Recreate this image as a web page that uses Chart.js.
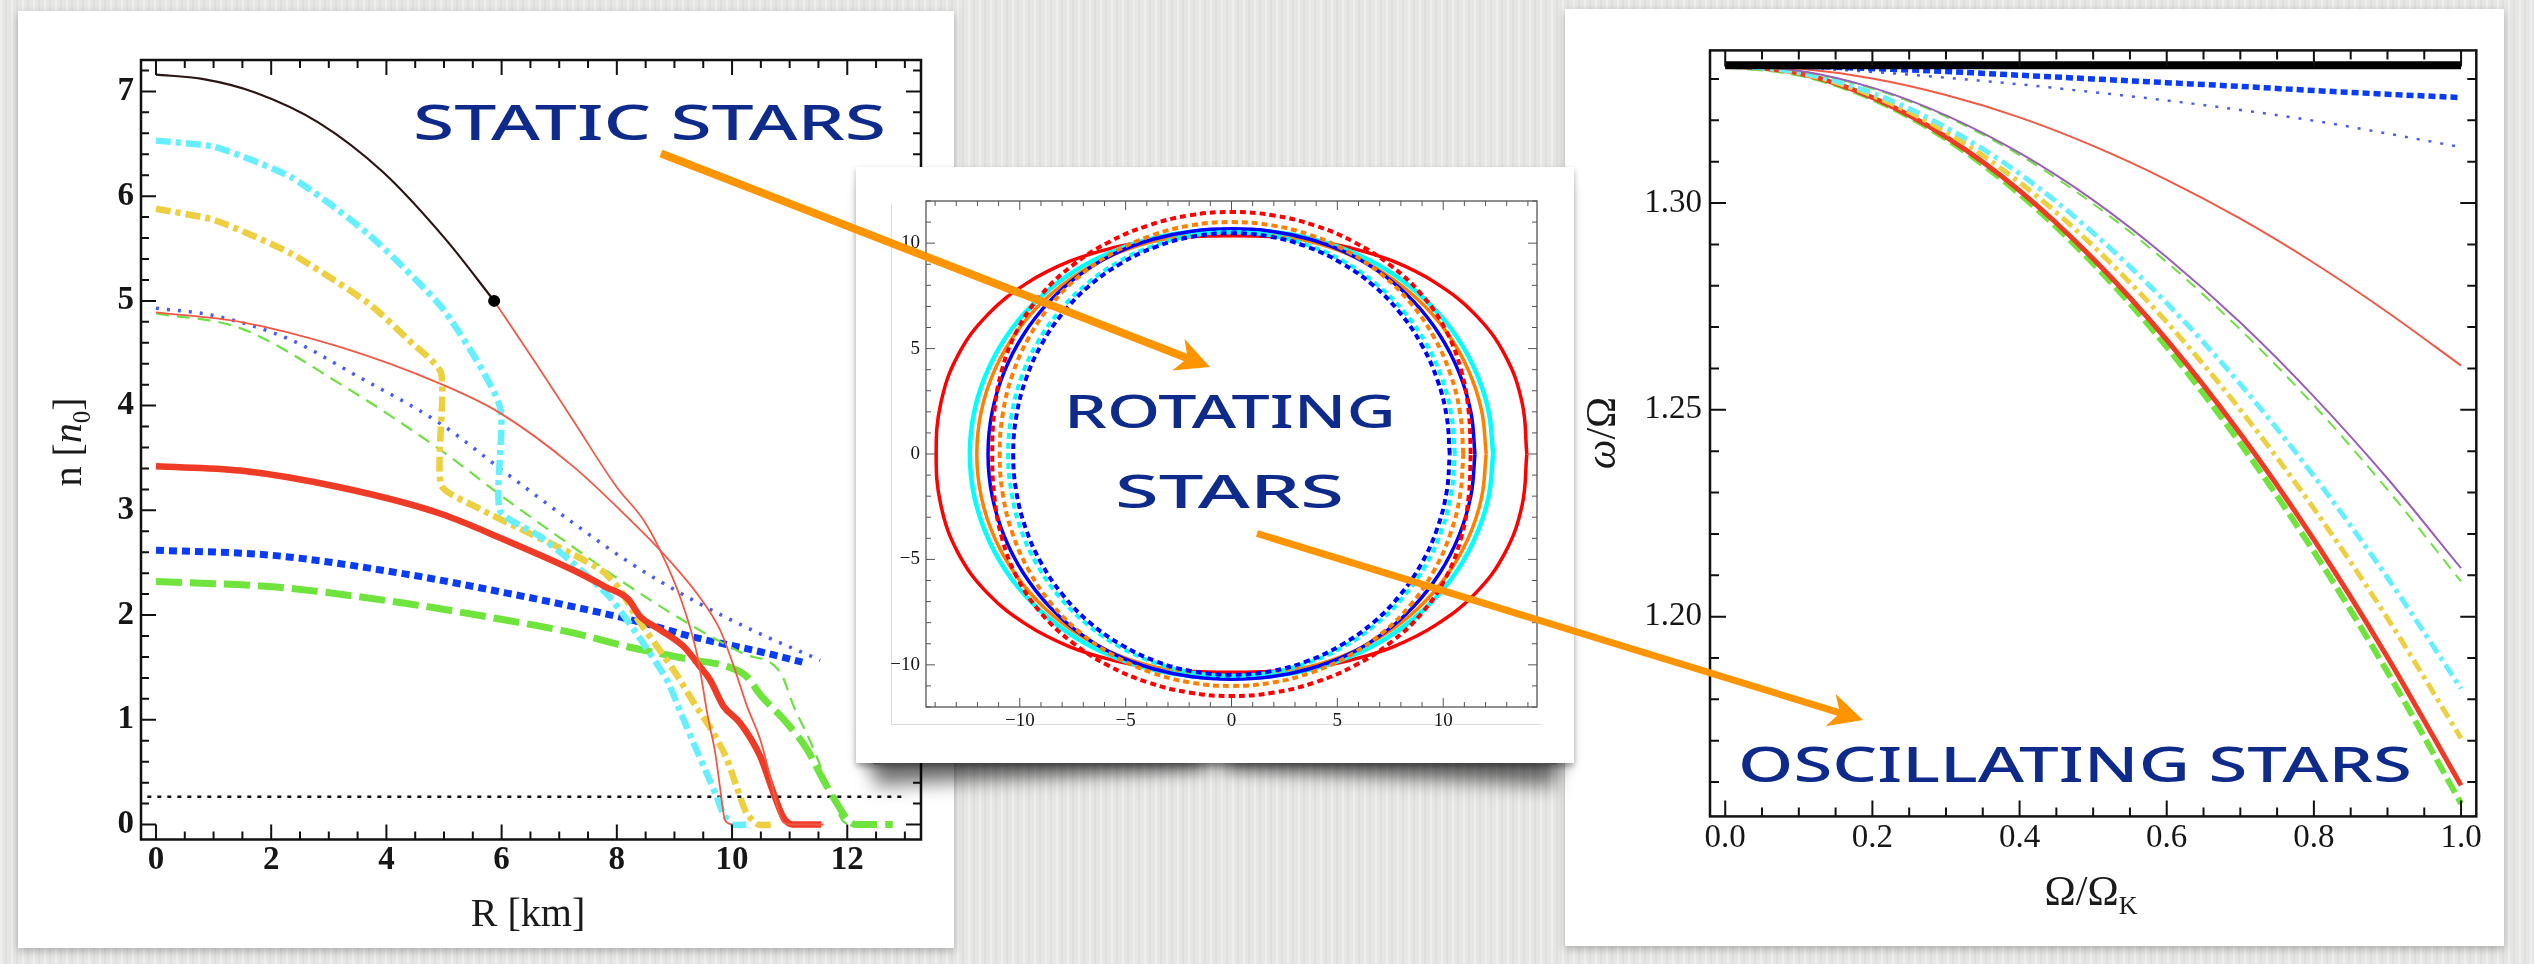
<!DOCTYPE html>
<html>
<head>
<meta charset="utf-8">
<title>Static, rotating and oscillating stars</title>
<script src="https://cdn.jsdelivr.net/npm/chart.js@4.4.1/dist/chart.umd.min.js"></script>
<style>
  html, body { margin:0; padding:0; }
  body {
    width:2534px; height:964px; position:relative; overflow:hidden;
    background-color:#e6e7e5;
    background-image: repeating-linear-gradient(90deg, rgba(255,255,255,.35) 0 2px, rgba(0,0,0,0) 2px 5px, rgba(0,0,0,.03) 5px 7px, rgba(0,0,0,0) 7px 11px);
  }
  .card { position:absolute; background:#fff; }
  #cardL { left:18px; top:11px; width:936px; height:937px; box-shadow:0 3px 8px rgba(0,0,0,.25); }
  #cardR { left:1565px; top:9px; width:939px; height:937px; box-shadow:0 3px 8px rgba(0,0,0,.25); }
  .lift { position:absolute; top:700px; width:330px; height:56px; background:#888;
          box-shadow:0 22px 18px rgba(0,0,0,.5); }
  #liftL { left:872px; transform:rotate(-3deg); }
  #liftR { left:1228px; transform:rotate(3deg); }
  #cardM { left:856px; top:167px; width:718px; height:596px;
           box-shadow:0 3px 6px rgba(0,0,0,.3), 0 12px 14px -6px rgba(0,0,0,.3); }
  #figM { position:absolute; left:891px; top:204px; width:649px; height:520px;
          border-left:1px solid #dcdcdc; border-bottom:1px solid #dcdcdc; }
  canvas { position:absolute; }
  .note { position:absolute; font-family:'Noto Sans', sans-serif; font-weight:500; color:#0e2b8c;
          white-space:nowrap; line-height:1; transform-origin:0 0; }
  svg { position:absolute; left:0; top:0; }
</style>
</head>
<body>
<div class="card" id="cardL"></div>
<canvas id="chartStatic" width="936" height="937" style="left:18px;top:11px"></canvas>
<div class="card" id="cardR"></div>
<canvas id="chartOsc" width="939" height="932" style="left:1565px;top:14px"></canvas>
<div class="lift" id="liftL"></div>
<div class="lift" id="liftR"></div>
<div class="card" id="cardM"></div>
<div id="figM"></div>
<canvas id="chartRot" width="718" height="596" style="left:856px;top:167px"></canvas>

<div class="note" id="noteStatic">STATIC STARS</div>
<div class="note" id="noteRot1">ROTATING</div>
<div class="note" id="noteRot2">STARS</div>
<div class="note" id="noteOsc">OSCILLATING STARS</div>
<svg id="arrows" width="2534" height="964"></svg>

<script>
// ---------- static stars: density profile n(R) in units of n0, R in km ----------
const hybridCore   = [[0,7.16],[0.8,7.12],[1.72,6.99],[2.83,6.70],[3.94,6.23],[5.04,5.58],[5.87,5.0]];
const phaseBoundary = [[5.87,5.0]];
const hadronicShellA = [[5.87,5.0],[6.6,4.4],[7.24,3.86],[8.0,3.22],[8.46,2.91],[8.75,2.62],[9.10,2.17],[9.39,1.63],[9.59,1.0],[9.71,0.68],[9.79,0.36],[9.88,0.04],[10.0,0]];
const hadronicB    = [[0,4.89],[1.46,4.80],[3.19,4.56],[4.93,4.21],[5.94,3.94],[7.24,3.42],[8.23,2.91],[8.75,2.62],[9.44,2.17],[9.79,1.86],[10.03,1.51],[10.26,1.13],[10.49,0.81],[10.66,0.46],[10.78,0.18],[10.89,0.02],[11.0,0],[11.59,0]];
const cyanProfile  = [[0,6.53],[1.02,6.47],[2.35,6.18],[3.68,5.64],[5.0,4.91],[5.97,3.99],[5.97,3.0],[6.67,2.75],[7.19,2.52],[7.88,2.17],[8.46,1.73],[8.87,1.38],[9.1,1.08],[9.33,0.78],[9.56,0.49],[9.73,0.27],[9.85,0.10],[10.02,0],[10.28,0]];
const yellowProfile= [[0,5.88],[1.02,5.77],[2.35,5.45],[3.68,4.98],[4.40,4.62],[4.95,4.31],[4.95,3.24],[5.6,3.02],[6.26,2.84],[7.24,2.58],[7.75,2.42],[8.05,2.25],[8.35,1.97],[8.75,1.66],[9.05,1.42],[9.35,1.15],[9.65,0.90],[9.90,0.64],[10.08,0.36],[10.25,0.11],[10.45,0],[10.72,0]];
const redProfile   = [[0,3.42],[1.46,3.38],[3.19,3.22],[4.93,2.97],[6.09,2.71],[7.24,2.43],[7.8,2.27],[8.2,2.15],[8.40,1.99],[8.75,1.86],[9.16,1.70],[9.44,1.51],[9.62,1.38],[9.85,1.13],[10.14,0.97],[10.49,0.65],[10.72,0.30],[10.89,0.07],[11.06,0],[11.55,0]];
const blueThick    = [[0,2.62],[2.03,2.57],[4.35,2.39],[6.09,2.21],[7.24,2.08],[8.28,1.95],[9.33,1.79],[10.49,1.65],[11.22,1.55]];
const blueThin     = [[0,4.93],[1.0,4.86],[2.33,4.63],[3.5,4.28],[4.93,3.83],[6.09,3.35],[7.24,2.88],[8.17,2.52],[9.33,2.14],[10.49,1.82],[11.53,1.57]];
const greenThin    = [[0,4.88],[1.46,4.74],[3.19,4.21],[4.93,3.58],[6.09,3.10],[7.24,2.65],[8.2,2.28],[9.33,1.89],[10.2,1.63],[10.84,1.45],[11.07,1.13],[11.37,0.78],[11.74,0.27],[11.93,0.03],[12.1,0],[12.25,0]];
const greenThick   = [[0,2.32],[2.03,2.27],[4.35,2.11],[6.09,1.95],[7.24,1.83],[8.17,1.70],[9.33,1.57],[9.91,1.51],[10.26,1.41],[10.49,1.24],[10.95,0.97],[11.3,0.72],[11.59,0.42],[11.80,0.22],[12.0,0.05],[12.15,0],[12.79,0]];
const crustDensity = [[-0.15,0.265],[12.95,0.265]];
const staticXTicks = { min:-0.26, max:13.28, step:2, minor:0.5 };
const staticYTicks = { min:-0.143, max:7.30, step:1, minor:0.2 };

// ---------- rotating stars: surface radius (km) at polar angle 0..90 deg ----------
const rotAngles     = [0,10,20,30,40,50,60,70,80,90];
const rRedSolid     = [13.95,13.94,13.74,13.27,12.61,11.92,11.28,10.79,10.47,10.35];
const rCyanSolid    = [12.36,12.31,12.16,11.95,11.68,11.40,11.12,10.88,10.70,10.62];
const rOrangeSolid  = [12.03,11.99,11.87,11.68,11.45,11.20,10.96,10.74,10.57,10.50];
const rBlueSolid    = [11.50,11.48,11.42,11.34,11.24,11.12,10.99,10.84,10.73,10.68];
const rRedDotted    = [11.30,11.38,11.55,11.70,11.74,11.68,11.60,11.53,11.49,11.48];
const rOrangeDotted = [10.95,10.97,11.01,11.05,11.08,11.08,11.06,11.03,11.01,11.00];
const rCyanDotted   = [10.55,10.55,10.57,10.58,10.58,10.57,10.56,10.54,10.53,10.52];
const rBlueDotted   = [10.31,10.32,10.34,10.37,10.40,10.43,10.44,10.46,10.47,10.47];
const rotXTicks = { min:-14.43, max:14.43, step:5, minor:1 };
const rotYTicks = { min:-12, max:12, step:5, minor:1 };

// ---------- oscillating stars: r-mode frequency ratio vs spin ----------
const spinRatio    = [0,0.1,0.2,0.3,0.4,0.5,0.6,0.7,0.8,0.9,1.0];
const wBlack       = [1.3333,1.3333,1.3333,1.3333,1.3333,1.3333,1.3333,1.3333,1.3333,1.3333,1.3333];
const wBlueThick   = [1.3333,1.3331,1.3325,1.3318,1.3309,1.3300,1.3291,1.3282,1.3272,1.3263,1.3255];
const wBlueThin    = [1.3333,1.3327,1.3317,1.3303,1.3287,1.3268,1.3248,1.3225,1.3199,1.3168,1.3135];
const wRedThin     = [1.3333,1.3325,1.3301,1.3261,1.3207,1.3138,1.3056,1.2962,1.2855,1.2736,1.2607];
const wPurple      = [1.3333,1.3320,1.3279,1.3212,1.3121,1.3007,1.2869,1.2711,1.2532,1.2334,1.2117];
const wGreenThin   = [1.3333,1.3319,1.3277,1.3209,1.3116,1.2998,1.2857,1.2694,1.2511,1.2307,1.2085];
const wCyan        = [1.3333,1.3316,1.3266,1.3183,1.3071,1.2928,1.2758,1.2562,1.2340,1.2094,1.1826];
const wYellow      = [1.3333,1.3315,1.3260,1.3172,1.3050,1.2896,1.2712,1.2500,1.2261,1.1996,1.1706];
const wRedThick    = [1.3333,1.3314,1.3255,1.3160,1.3030,1.2865,1.2669,1.2442,1.2186,1.1902,1.1592];
const wGreenThick  = [1.3333,1.3313,1.3253,1.3156,1.3022,1.2854,1.2652,1.2419,1.2157,1.1866,1.1548];
const oscXTicks = { min:-0.0207, max:1.0207, step:0.2, minor:0.05 };
const oscYTicks = { min:1.1517, max:1.3369, step:0.05, minor:0.01 };

// ---------- shared helpers ----------
Chart.defaults.font.family = "'Liberation Serif', serif";

const pts = arr => arr.map(([x, y]) => ({ x, y }));
function curve(points, color, width, dash, extra) {
  return Object.assign({
    data: points, borderColor: color, backgroundColor: color, borderWidth: width,
    borderDash: dash || [], showLine: true, pointRadius: 0, fill: false,
    cubicInterpolationMode: 'monotone', borderCapStyle: 'butt', borderJoinStyle: 'round'
  }, extra || {});
}

// frame with inward ticks on all four sides (Mathematica style)
const framePlugin = {
  id: 'frame',
  afterDatasetsDraw(chart, args, o) {
    const { ctx, chartArea: a, scales: { x, y } } = chart;
    ctx.save();
    ctx.strokeStyle = o.color;
    ctx.lineWidth = o.tickWidth;
    const run = (scale, t, horizontal) => {
      const i0 = Math.ceil(scale.min / t.minor - 1e-6), i1 = Math.floor(scale.max / t.minor + 1e-6);
      for (let i = i0; i <= i1; i++) {
        const v = i * t.minor;
        const q = v / t.step;
        const major = Math.abs(q - Math.round(q)) < 1e-6;
        const len = major ? o.major : o.minor;
        const p = scale.getPixelForValue(v);
        ctx.beginPath();
        if (horizontal) {
          ctx.moveTo(p, a.bottom); ctx.lineTo(p, a.bottom - len);
          ctx.moveTo(p, a.top);    ctx.lineTo(p, a.top + len);
        } else {
          ctx.moveTo(a.left, p);  ctx.lineTo(a.left + len, p);
          ctx.moveTo(a.right, p); ctx.lineTo(a.right - len, p);
        }
        ctx.stroke();
      }
    };
    run(x, o.xt, true);
    run(y, o.yt, false);
    ctx.lineWidth = o.frameWidth;
    ctx.strokeRect(a.left, a.top, a.right - a.left, a.bottom - a.top);
    ctx.restore();
  }
};

// axis titles with italic / subscript runs
const titlePlugin = {
  id: 'axisTitles',
  afterDraw(chart, args, o) {
    const ctx = chart.ctx;
    (o.items || []).forEach(it => {
      ctx.save();
      ctx.translate(it.x, it.y);
      if (it.rotate) ctx.rotate(it.rotate);
      ctx.fillStyle = it.color || '#1a1a1a';
      ctx.textBaseline = 'alphabetic';
      ctx.textAlign = 'left';
      const fontOf = r => (r.italic ? 'italic ' : '') + (r.bold ? 'bold ' : '') +
        Math.round(it.size * (r.sub ? 0.62 : 1)) + "px 'Liberation Serif', serif";
      let total = 0;
      it.runs.forEach(r => { ctx.font = fontOf(r); r.w = ctx.measureText(r.t).width; total += r.w; });
      let px = -total / 2;
      it.runs.forEach(r => { ctx.font = fontOf(r); ctx.fillText(r.t, px, r.sub ? it.size * 0.22 : 0); px += r.w; });
      ctx.restore();
    });
  }
};

function axis(t, fit, tickFont, padding, fmt) {
  return {
    type: 'linear', min: t.min, max: t.max, afterFit: fit,
    grid: { display: false, drawTicks: false }, border: { display: false },
    ticks: { stepSize: t.step, includeBounds: false, autoSkip: false, maxRotation: 0,
             padding: padding, color: '#161616', font: tickFont, callback: fmt }
  };
}
const base = { responsive: false, animation: false, devicePixelRatio: 1, events: [] };

// ---------- left: static stars ----------
const lf = { size: 33, weight: 'bold' };
new Chart(document.getElementById('chartStatic'), {
  type: 'scatter',
  data: { datasets: [
    curve(pts(phaseBoundary), '#000', 0, [], { showLine: false, pointRadius: 6, order: 0 }),
    curve(pts(hybridCore), '#2b1512', 2.2, [], { order: 1 }),
    curve(pts(hadronicShellA), '#ef5a46', 1.8, [], { order: 2 }),
    curve(pts(hadronicB), '#ef5a46', 1.8, [], { order: 3 }),
    curve(pts(redProfile), '#ee3b26', 6.5, [], { order: 4 }),
    curve(pts(yellowProfile), '#ecd042', 6.5, [15,5,5,5], { order: 6, cubicInterpolationMode: 'default', tension: 0.2 }),
    curve(pts(cyanProfile), '#66f0ff', 6.5, [15,5,5,5], { order: 5, cubicInterpolationMode: 'default', tension: 0.2 }),
    curve(pts(blueThin), '#4a5cf2', 3.5, [3,8], { order: 7 }),
    curve(pts(greenThin), '#6ee044', 2.2, [13,8], { order: 8 }),
    curve(pts(blueThick), '#0a3cf5', 7, [8,5], { order: 9 }),
    curve(pts(greenThick), '#6ee43c', 7, [26,8], { order: 10 }),
    curve(pts(crustDensity), '#111', 2.5, [4,6], { order: 11, cubicInterpolationMode: 'default', tension: 0 })
  ] },
  options: Object.assign({}, base, {
    layout: { padding: { left: 0, top: 49, right: 33, bottom: 0 } },
    plugins: {
      legend: { display: false }, tooltip: { enabled: false },
      frame: { color: '#111', tickWidth: 2, frameWidth: 2.5, major: 15, minor: 8, xt: staticXTicks, yt: staticYTicks },
      axisTitles: { items: [
        { x: 510, y: 915, size: 40, runs: [{ t: 'R [km]' }] },
        { x: 63, y: 431, size: 40, rotate: -Math.PI / 2, runs: [{ t: 'n [' }, { t: 'n', italic: true }, { t: '0', sub: true }, { t: ']' }] }
      ] }
    },
    scales: {
      x: axis(staticXTicks, s => { s.height = 108.5; }, lf, 1),
      y: axis(staticYTicks, s => { s.width = 123; }, lf, 7)
    }
  }),
  plugins: [framePlugin, titlePlugin]
});

// ---------- middle: rotating stars ----------
// closed outline from the first-quadrant radii, mirrored into the other quadrants
function outline(radii) {
  const out = [];
  const step = rotAngles[1];
  for (let k = 0; k <= 360 / step; k++) {
    const deg = k * step;
    const ref = deg <= 90 ? deg : deg <= 180 ? 180 - deg : deg <= 270 ? deg - 180 : 360 - deg;
    const r = radii[rotAngles.indexOf(ref)];
    const th = deg * Math.PI / 180;
    out.push({ x: r * Math.cos(th), y: r * Math.sin(th) });
  }
  return out;
}
const mf = { size: 19 };
const signed = v => (v < 0 ? '\u2212' + Math.abs(v) : String(v));
const loop = { cubicInterpolationMode: 'default', tension: 0.4 };
new Chart(document.getElementById('chartRot'), {
  type: 'scatter',
  data: { datasets: [
    curve(outline(rBlueDotted), '#0000ff', 4, [6,4], Object.assign({ order: 0 }, loop)),
    curve(outline(rCyanDotted), '#00ffff', 4, [6,4], Object.assign({ order: 1 }, loop)),
    curve(outline(rOrangeDotted), '#ff8000', 4, [6,4], Object.assign({ order: 2 }, loop)),
    curve(outline(rRedDotted), '#ff0000', 4, [6,4], Object.assign({ order: 3 }, loop)),
    curve(outline(rBlueSolid), '#0000ff', 3.5, [], Object.assign({ order: 4 }, loop)),
    curve(outline(rCyanSolid), '#00ffff', 4.5, [], Object.assign({ order: 5 }, loop)),
    curve(outline(rOrangeSolid), '#ff8000', 3.5, [], Object.assign({ order: 6 }, loop)),
    curve(outline(rRedSolid), '#ff0000', 3.5, [], Object.assign({ order: 7 }, loop))
  ] },
  options: Object.assign({}, base, {
    layout: { padding: { left: 0, top: 34, right: 37, bottom: 0 } },
    plugins: {
      legend: { display: false }, tooltip: { enabled: false },
      frame: { color: '#555', tickWidth: 1, frameWidth: 1.3, major: 9, minor: 5, xt: rotXTicks, yt: rotYTicks }
    },
    scales: {
      x: axis(rotXTicks, s => { s.height = 56; }, mf, 3, signed),
      y: axis(rotYTicks, s => { s.width = 70; }, mf, 6, signed)
    }
  }),
  plugins: [framePlugin]
});

// ---------- right: oscillating stars ----------
const series = ys => spinRatio.map((x, i) => ({ x, y: ys[i] }));
const rf = { size: 33 };
new Chart(document.getElementById('chartOsc'), {
  type: 'scatter',
  data: { datasets: [
    curve(series(wBlack), '#000', 8, [], { order: 0 }),
    curve(series(wBlueThick), '#0a3cf5', 5.5, [7,4], { order: 1 }),
    curve(series(wBlueThin), '#4a5cf2', 2.5, [3,9], { order: 2 }),
    curve(series(wRedThin), '#ef5a46', 2, [], { order: 3 }),
    curve(series(wPurple), '#9b5fb5', 2, [], { order: 4 }),
    curve(series(wGreenThin), '#6ee044', 2, [12,8], { order: 5 }),
    curve(series(wCyan), '#66f0ff', 5, [13,5,4,5], { order: 6 }),
    curve(series(wYellow), '#ecd042', 5, [13,5,4,5], { order: 7 }),
    curve(series(wRedThick), '#ee3b26', 5, [], { order: 8 }),
    curve(series(wGreenThick), '#6ee43c', 6, [16,6], { order: 9 })
  ] },
  options: Object.assign({}, base, {
    layout: { padding: { left: 0, top: 36.4, right: 27.7, bottom: 0 } },
    plugins: {
      legend: { display: false }, tooltip: { enabled: false },
      frame: { color: '#111', tickWidth: 2, frameWidth: 2.5, major: 16, minor: 9, xt: oscXTicks, yt: oscYTicks },
      axisTitles: { items: [
        { x: 526, y: 891, size: 42, runs: [{ t: '\u03A9/\u03A9' }, { t: 'K', sub: true }] },
        { x: 50, y: 419, size: 42, rotate: -Math.PI / 2, runs: [{ t: '\u03C9', italic: true }, { t: '/\u03A9' }] }
      ] }
    },
    scales: {
      x: axis(oscXTicks, s => { s.height = 129.6; }, rf, 2, v => v.toFixed(1)),
      y: axis(oscYTicks, s => { s.width = 145; }, rf, 8, v => v.toFixed(2))
    }
  }),
  plugins: [framePlugin, titlePlugin]
});

// ---------- handwritten captions ----------
function placeNote(id, left, capTop, width, capH) {
  const el = document.getElementById(id);
  const fs = capH / 0.714;
  el.style.fontSize = fs + 'px';
  el.style.left = left + 'px';
  el.style.top = (capTop - 0.174 * fs) + 'px';
  const w = el.getBoundingClientRect().width;
  el.style.transform = 'scaleX(' + (width / w) + ')';
}
placeNote('noteStatic', 413, 106, 473, 35);
placeNote('noteRot1', 1064, 397, 332, 32);
placeNote('noteRot2', 1115, 476, 229, 33);
placeNote('noteOsc', 1738, 748, 674, 35);

// ---------- orange arrows ----------
function arrow(svg, x1, y1, x2, y2, w) {
  const NS = 'http://www.w3.org/2000/svg';
  const dx = x2 - x1, dy = y2 - y1, L = Math.hypot(dx, dy);
  const ux = dx / L, uy = dy / L, nx = -uy, ny = ux;
  const hl = 34, hw = 17, notch = 24;
  const bx = x2 - ux * hl, by = y2 - uy * hl;
  const mx = x2 - ux * notch, my = y2 - uy * notch;
  const ln = document.createElementNS(NS, 'line');
  ln.setAttribute('x1', x1); ln.setAttribute('y1', y1);
  ln.setAttribute('x2', mx); ln.setAttribute('y2', my);
  ln.setAttribute('stroke', '#fd9402'); ln.setAttribute('stroke-width', w);
  svg.appendChild(ln);
  const head = document.createElementNS(NS, 'polygon');
  head.setAttribute('points', [[x2, y2], [bx + nx * hw, by + ny * hw], [mx, my], [bx - nx * hw, by - ny * hw]].map(p => p.join(',')).join(' '));
  head.setAttribute('fill', '#fd9402');
  svg.appendChild(head);
}
const svg = document.getElementById('arrows');
arrow(svg, 661, 153.5, 1210, 367, 8);
arrow(svg, 1257, 533.5, 1863, 720, 7);
</script>
</body>
</html>
